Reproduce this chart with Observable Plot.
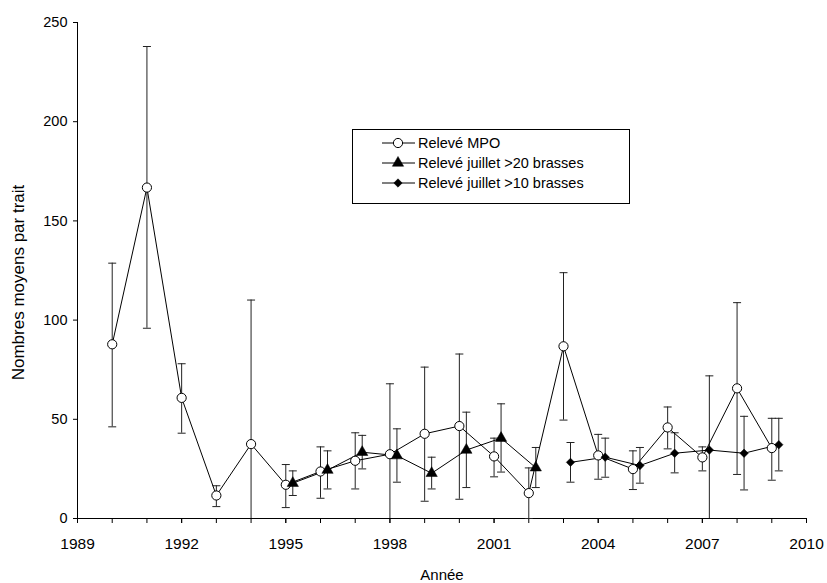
<!DOCTYPE html>
<html>
<head>
<meta charset="utf-8">
<script src="https://cdn.jsdelivr.net/npm/d3@7"></script>
<script src="https://cdn.jsdelivr.net/npm/@observablehq/plot@0.6"></script>
<style>
  html, body { margin: 0; padding: 0; background: #fff; }
  #wrap { position: relative; width: 827px; height: 583px; }
  #legend { position: absolute; left: 352px; top: 129px; }
</style>
</head>
<body>
<div id="wrap"></div>
<script>
// ---- Data ----
const mpoYears  = [1990,1991,1992,1993,1994,1995,1996,1997,1998,1999,2000,2001,2002,2003,2004,2005,2006,2007,2008,2009];
const mpoMean   = [87.8,166.8,60.8,11.6,37.5,17.0,23.7,29.1,32.4,42.7,46.6,31.3,12.8,86.8,31.8,24.9,45.9,30.8,65.6,35.5];
const mpoUpper  = [128.7,237.9,78.0,16.5,110.1,27.2,36.1,43.2,67.9,76.3,82.9,40.5,25.5,123.9,42.4,34.1,56.2,36.1,108.8,50.5];
const mpoLower  = [46.2,95.9,43.0,6.0,-35.0,5.5,10.2,14.9,-3.0,8.7,9.7,21.0,0.0,49.6,19.8,14.6,35.1,24.0,22.2,19.3];

const j20Years  = [1995,1996,1997,1998,1999,2000,2001,2002];
const j20Mean   = [17.8,24.4,33.4,31.7,22.8,34.5,40.5,25.6];
const j20Upper  = [24.0,34.1,41.9,45.2,30.9,53.6,57.8,35.8];
const j20Lower  = [11.6,14.9,25.0,18.3,14.9,15.6,23.4,15.6];

const j10Years  = [2003,2004,2005,2006,2007,2008,2009];
const j10Mean   = [28.3,30.9,26.7,32.9,34.5,32.9,37.2];
const j10Upper  = [38.3,40.5,35.8,43.2,71.9,51.5,50.5];
const j10Lower  = [18.3,20.8,17.8,23.0,-2.9,14.4,24.0];

const seriesNames = ["Relevé MPO", "Relevé juillet >20 brasses", "Relevé juillet >10 brasses"];
const yTicks = [0, 50, 100, 150, 200, 250];
const xLabelTicks = [1989, 1992, 1995, 1998, 2001, 2004, 2007, 2010];
const xMinorTicks = d3.range(1989, 2011);
const xTitle = "Année";
const yTitle = "Nombres moyens par trait";

// ---- Build tables ----
const mk = (xs, m, hi, lo) => xs.map((x, i) => ({x, m: m[i], hi: hi[i], lo: lo[i]}));
const mpo = mk(mpoYears, mpoMean, mpoUpper, mpoLower);
const j20 = mk(j20Years, j20Mean, j20Upper, j20Lower);
const j10 = mk(j10Years, j10Mean, j10Upper, j10Lower);

const cap = { draw(ctx) { ctx.moveTo(-4, 0); ctx.lineTo(4, 0); } };
const OFF = 7; // horizontal offset (px) of the July survey series

function errMarks(data, dx) {
  return [
    Plot.ruleX(data, {x: "x", y1: "lo", y2: "hi", stroke: "#222", strokeWidth: 1, dx, clip: true}),
    Plot.dot(data, {x: "x", y: "hi", symbol: cap, stroke: "#222", fill: "none", strokeWidth: 1, dx}),
    Plot.dot(data.filter(d => d.lo >= 0), {x: "x", y: "lo", symbol: cap, stroke: "#222", fill: "none", strokeWidth: 1, dx})
  ];
}

const font = "'Liberation Sans', Arial, sans-serif";

const chart = Plot.plot({
  width: 827,
  height: 583,
  marginLeft: 77,
  marginRight: 21,
  marginTop: 22,
  marginBottom: 65,
  style: {fontFamily: font, fontSize: "14px", color: "#000", background: "#fff"},
  x: {domain: [1989, 2010]},
  y: {domain: [0, 250]},
  marks: [
    Plot.axisY(yTicks, {tickSize: 4, tickPadding: 6, fontSize: 14.5, label: null}),
    Plot.axisX(xMinorTicks, {tickSize: 5, tickFormat: () => "", label: null}),
    Plot.axisX(xLabelTicks, {tickSize: 5, tickPadding: 14, tickFormat: "d", fontSize: 15.5, label: null}),
    Plot.ruleY([0], {stroke: "#000"}),
    Plot.ruleX([1989], {stroke: "#000"}),
    ...errMarks(mpo, 0),
    ...errMarks(j20, OFF),
    ...errMarks(j10, OFF),
    Plot.line(mpo, {x: "x", y: "m", stroke: "#000", strokeWidth: 1}),
    Plot.line(j20, {x: "x", y: "m", stroke: "#000", strokeWidth: 1, dx: OFF}),
    Plot.line(j10, {x: "x", y: "m", stroke: "#000", strokeWidth: 1, dx: OFF}),
    Plot.dot(mpo, {x: "x", y: "m", r: 4.6, fill: "#fff", stroke: "#000", strokeWidth: 1}),
    Plot.dot(j20, {x: "x", y: "m", r: 4.2, symbol: "triangle", fill: "#000", stroke: "#000", strokeWidth: 0.5, dx: OFF}),
    Plot.dot(j10, {x: "x", y: "m", r: 3.8, symbol: "diamond2", fill: "#000", stroke: "#000", strokeWidth: 0.5, dx: OFF}),
    Plot.text([xTitle], {frameAnchor: "bottom", dy: 57, textAnchor: "middle", lineAnchor: "middle", fontSize: 15}),
    Plot.text([yTitle], {frameAnchor: "left", dx: -59, dy: 12, rotate: -90, textAnchor: "middle", lineAnchor: "middle", fontSize: 17})
  ]
});

const wrap = document.getElementById("wrap");
wrap.appendChild(chart);

// ---- Legend (boxed, over the plot area) ----
const lw = 278, lh = 75;
const leg = d3.select(wrap).append("svg")
  .attr("id", "legend")
  .attr("width", lw).attr("height", lh)
  .style("font-family", font)
  .style("font-size", "14.5px");
leg.append("rect").attr("x", 0.5).attr("y", 0.5).attr("width", lw - 1).attr("height", lh - 1)
  .attr("fill", "#fff").attr("stroke", "#000");
const rowsY = [14, 34, 54];
const symbols = [
  {type: d3.symbolCircle, size: Math.PI * 4.6 * 4.6, fill: "#fff"},
  {type: d3.symbolTriangle, size: Math.PI * 4.2 * 4.2, fill: "#000"},
  {type: d3.symbolDiamond2, size: Math.PI * 3.8 * 3.8, fill: "#000"}
];
seriesNames.forEach((name, i) => {
  const g = leg.append("g").attr("transform", `translate(0,${rowsY[i]})`);
  g.append("line").attr("x1", 30).attr("x2", 63).attr("y1", 0).attr("y2", 0).attr("stroke", "#000");
  g.append("path").attr("transform", "translate(46,0)")
    .attr("d", d3.symbol(symbols[i].type, symbols[i].size)())
    .attr("fill", symbols[i].fill).attr("stroke", "#000").attr("stroke-width", i === 0 ? 1 : 0.5);
  g.append("text").attr("x", 66).attr("y", 0).attr("dy", "0.35em").text(name);
});
</script>
</body>
</html>
